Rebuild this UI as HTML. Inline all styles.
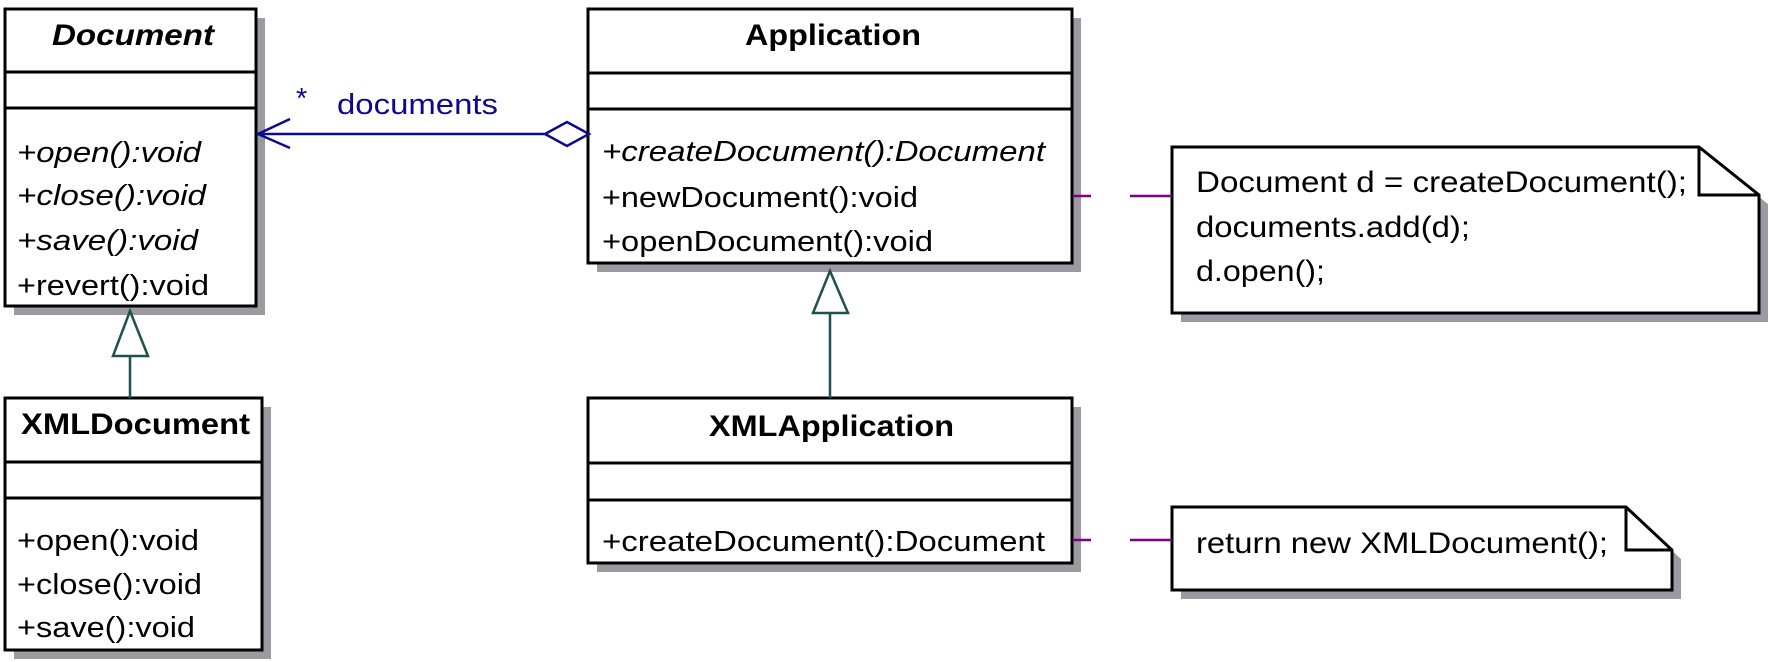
<!DOCTYPE html>
<html><head><meta charset="utf-8"><style>
html,body{margin:0;padding:0;background:#fff;}
svg{display:block;}
text{font-family:"Liberation Sans",Arial,sans-serif;font-size:29px;fill:#000;}
.b{font-weight:bold;font-size:30px;}
.i{font-style:italic;}
.n{font-size:30px;}
</style></head><body>
<svg width="1769" height="662" viewBox="0 0 1769 662" xmlns="http://www.w3.org/2000/svg">
<g fill="#9a9aa0">
<rect x="14" y="18" width="251" height="297"/>
<rect x="597" y="18" width="484" height="254"/>
<rect x="597" y="407" width="484" height="165"/>
<rect x="14" y="407" width="257" height="252"/>
<polygon points="1181,156 1708,156 1768,204 1768,322 1181,322"/>
<polygon points="1181,516 1635,516 1681,559 1681,599 1181,599"/>
</g>
<g fill="#fff" stroke="#000" stroke-width="3">
<rect x="5" y="9" width="251" height="297"/>
<rect x="588" y="9" width="484" height="254"/>
<rect x="588" y="398" width="484" height="165"/>
<rect x="5" y="398" width="257" height="252"/>
<polygon points="1172,147 1699,147 1759,195 1759,313 1172,313"/>
<polyline points="1699,147 1699,195 1759,195" fill="none"/>
<polygon points="1172,507 1626,507 1672,550 1672,590 1172,590"/>
<polyline points="1626,507 1626,550 1672,550" fill="none"/>
</g>
<g stroke="#000" stroke-width="3">
<line x1="5" y1="72" x2="256" y2="72"/><line x1="5" y1="108" x2="256" y2="108"/>
<line x1="588" y1="73" x2="1072" y2="73"/><line x1="588" y1="109" x2="1072" y2="109"/>
<line x1="588" y1="463" x2="1072" y2="463"/><line x1="588" y1="500" x2="1072" y2="500"/>
<line x1="5" y1="462" x2="262" y2="462"/><line x1="5" y1="498" x2="262" y2="498"/>
</g>
<g stroke="#0a0a8a" stroke-width="2.5" fill="none">
<line x1="257" y1="134" x2="545" y2="134"/>
<polyline points="290,119 258,134 290,148"/>
<polygon points="545,134 567,122 589,134 567,146" fill="#fff"/>
</g>
<text x="296" y="108" style="fill:#0a0a8a">*</text>
<text x="337" y="114" style="fill:#0a0a8a" textLength="161" lengthAdjust="spacingAndGlyphs">documents</text>
<g stroke="#1f4f4f" stroke-width="2.5" fill="#fff">
<line x1="830" y1="313" x2="830" y2="398"/>
<polygon points="830,271 813,313 848,313"/>
<line x1="130" y1="356" x2="130" y2="398"/>
<polygon points="130,311 113,356 148,356"/>
</g>
<g stroke="#800080" stroke-width="2.5">
<line x1="1073" y1="196" x2="1091" y2="196"/><line x1="1130" y1="196" x2="1172" y2="196"/>
<line x1="1073" y1="540" x2="1091" y2="540"/><line x1="1130" y1="540" x2="1172" y2="540"/>
</g>
<text x="52" y="45" class="b i" textLength="162" lengthAdjust="spacingAndGlyphs">Document</text>
<text x="17" y="162" class="i" textLength="184" lengthAdjust="spacingAndGlyphs">+open():void</text>
<text x="17" y="205" class="i" textLength="189" lengthAdjust="spacingAndGlyphs">+close():void</text>
<text x="17" y="250" class="i" textLength="181" lengthAdjust="spacingAndGlyphs">+save():void</text>
<text x="17" y="295" textLength="192" lengthAdjust="spacingAndGlyphs">+revert():void</text>
<text x="21" y="434" class="b" textLength="229" lengthAdjust="spacingAndGlyphs">XMLDocument</text>
<text x="17" y="550" textLength="182" lengthAdjust="spacingAndGlyphs">+open():void</text>
<text x="17" y="594" textLength="185" lengthAdjust="spacingAndGlyphs">+close():void</text>
<text x="17" y="637" textLength="178" lengthAdjust="spacingAndGlyphs">+save():void</text>
<text x="745" y="45" class="b" textLength="176" lengthAdjust="spacingAndGlyphs">Application</text>
<text x="602" y="161" class="i" textLength="443" lengthAdjust="spacingAndGlyphs">+createDocument():Document</text>
<text x="602" y="207" textLength="316" lengthAdjust="spacingAndGlyphs">+newDocument():void</text>
<text x="602" y="251" textLength="331" lengthAdjust="spacingAndGlyphs">+openDocument():void</text>
<text x="709" y="436" class="b" textLength="245" lengthAdjust="spacingAndGlyphs">XMLApplication</text>
<text x="602" y="551" textLength="443" lengthAdjust="spacingAndGlyphs">+createDocument():Document</text>
<text x="1196" y="192" class="n" textLength="491" lengthAdjust="spacingAndGlyphs">Document d = createDocument();</text>
<text x="1196" y="237" class="n" textLength="274" lengthAdjust="spacingAndGlyphs">documents.add(d);</text>
<text x="1196" y="281" class="n" textLength="129" lengthAdjust="spacingAndGlyphs">d.open();</text>
<text x="1196" y="553" class="n" textLength="412" lengthAdjust="spacingAndGlyphs">return new XMLDocument();</text>
</svg>
</body></html>
